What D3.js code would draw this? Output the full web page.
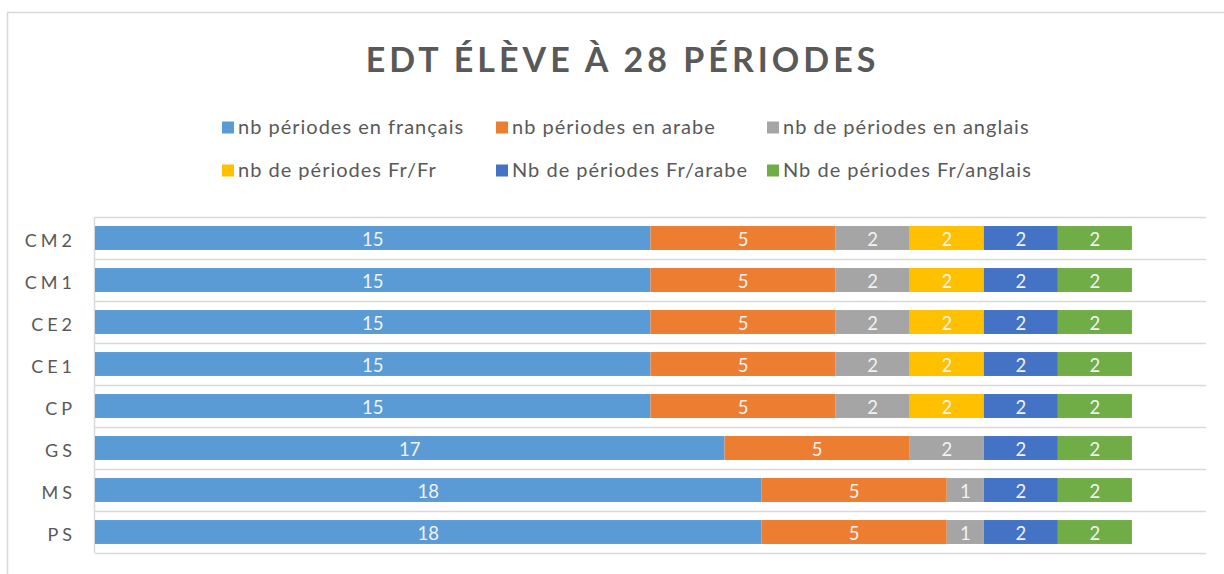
<!DOCTYPE html>
<html>
<head>
<meta charset="utf-8">
<script src="https://cdn.jsdelivr.net/npm/d3@7"></script>
<style>
  body { margin: 0; background: #fff; }
  text { font-family: Lato, "Open Sans", sans-serif; }
</style>
</head>
<body>
<div id="chart"></div>
<script>
// categories, top to bottom
const categories = ["CM2", "CM1", "CE2", "CE1", "CP", "GS", "MS", "PS"];

// series values, same order as categories
const francais  = [15, 15, 15, 15, 15, 17, 18, 18];
const arabe     = [5, 5, 5, 5, 5, 5, 5, 5];
const anglais   = [2, 2, 2, 2, 2, 2, 1, 1];
const frFr      = [2, 2, 2, 2, 2, 0, 0, 0];
const frArabe   = [2, 2, 2, 2, 2, 2, 2, 2];
const frAnglais = [2, 2, 2, 2, 2, 2, 2, 2];

const seriesNames = [
    "nb périodes en français",
    "nb périodes en arabe",
    "nb de périodes en anglais",
    "nb de périodes Fr/Fr",
    "Nb de périodes Fr/arabe",
    "Nb de périodes Fr/anglais"
];
const seriesValues = [francais, arabe, anglais, frFr, frArabe, frAnglais];
const colors = ["#5B9BD5", "#ED7D31", "#A5A5A5", "#FFC000", "#4472C4", "#70AD47"];

const title = "EDT ÉLÈVE À 28 PÉRIODES";
const xMax = 30;

const width = 1224;
const height = 574;

// table for d3.stack
const keys = seriesNames;
const table = categories.map((c, i) => {
    const row = { cat: c };
    keys.forEach((k, j) => row[k] = seriesValues[j][i]);
    return row;
});
const stacked = d3.stack().keys(keys)(table);

const svg = d3.select("#chart").append("svg")
    .attr("width", width)
    .attr("height", height);

svg.append("rect")
    .attr("width", width).attr("height", height)
    .attr("fill", "#fff");

// chart area border
svg.append("rect")
    .attr("x", 7.5).attr("y", 12.5)
    .attr("width", 1240).attr("height", 600)
    .attr("fill", "none")
    .attr("stroke", "#d9d9d9")
    .attr("stroke-width", 1.5);

const x = d3.scaleLinear()
    .domain([0, xMax])
    .range([95, 1206]);

const y = d3.scaleBand()
    .domain(categories)
    .range([217, 553])
    .paddingInner(0.43)
    .paddingOuter(0.215);

// title
svg.append("text")
    .attr("x", 622.5)
    .attr("y", 72)
    .attr("text-anchor", "middle")
    .attr("fill", "#595959")
    .style("font-size", "34px")
    .style("font-weight", "bold")
    .style("letter-spacing", "4px")
    .text(title);

// horizontal gridlines at category boundaries
const step = y.step();
const gridY = d3.range(categories.length + 1).map(i => y.range()[0] + i * step);
svg.append("g")
    .selectAll("line")
    .data(gridY)
    .join("line")
    .attr("x1", x(0)).attr("x2", x(xMax))
    .attr("y1", d => Math.round(d) + 0.5).attr("y2", d => Math.round(d) + 0.5)
    .attr("stroke", "#d9d9d9")
    .attr("stroke-width", 1.5);

// vertical axis line
svg.append("line")
    .attr("x1", x(0) - 0.5).attr("x2", x(0) - 0.5)
    .attr("y1", y.range()[0]).attr("y2", y.range()[1])
    .attr("stroke", "#d9d9d9")
    .attr("stroke-width", 1.5);

// category labels
svg.append("g")
    .selectAll("text")
    .data(categories)
    .join("text")
    .attr("x", 76)
    .attr("y", d => y(d) + y.bandwidth() / 2 + 8.5)
    .attr("text-anchor", "end")
    .attr("fill", "#595959")
    .style("font-size", "18px")
    .style("letter-spacing", "4px")
    .text(d => d);

// bars
const layers = svg.append("g")
    .selectAll("g")
    .data(stacked)
    .join("g")
    .attr("fill", (d, i) => colors[i]);

layers.selectAll("rect")
    .data(d => d)
    .join("rect")
    .attr("x", d => x(d[0]))
    .attr("y", d => y(d.data.cat))
    .attr("width", d => x(d[1]) - x(d[0]))
    .attr("height", y.bandwidth());

// data labels
layers.selectAll("text")
    .data(d => d.filter(p => p[1] - p[0] > 0))
    .join("text")
    .attr("x", d => (x(d[0]) + x(d[1])) / 2)
    .attr("y", d => y(d.data.cat) + y.bandwidth() / 2 + 7.5)
    .attr("text-anchor", "middle")
    .attr("fill", "#f2f2f2")
    .style("font-size", "18.5px")
    .text(d => d[1] - d[0]);

// legend
const legendCols = [222, 496, 767];
const legendRows = [127.5, 170.5];
const legend = svg.append("g")
    .selectAll("g")
    .data(seriesNames)
    .join("g")
    .attr("transform", (d, i) => `translate(${legendCols[i % 3]},${legendRows[Math.floor(i / 3)]})`);

legend.append("rect")
    .attr("x", 0).attr("y", -6)
    .attr("width", 12).attr("height", 12)
    .attr("fill", (d, i) => colors[i]);

legend.append("text")
    .attr("x", 16)
    .attr("y", 6.5)
    .attr("fill", "#595959")
    .style("font-size", "20px")
    .style("letter-spacing", "1px")
    .text(d => d);
</script>
</body>
</html>
